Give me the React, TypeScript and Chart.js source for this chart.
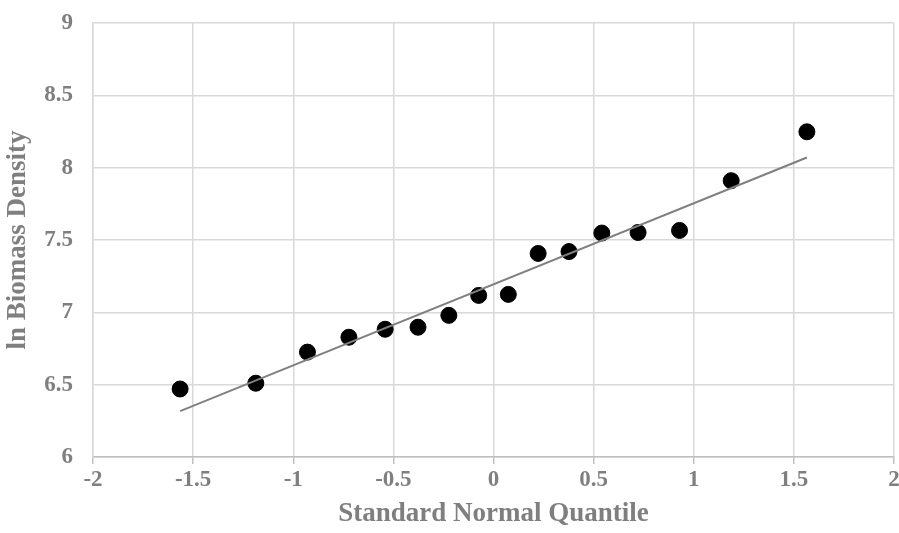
import React, { useEffect, useRef } from "react";
import { Chart, registerables } from "chart.js";

Chart.register(...registerables);

// Standard normal quantiles (x) and ln biomass density (y)
const quantiles = [
  -1.565, -1.187, -0.929, -0.722, -0.541, -0.377, -0.223, -0.074,
  0.074, 0.223, 0.377, 0.541, 0.722, 0.929, 1.187, 1.565,
];
const lnDensity = [
  6.47, 6.51, 6.725, 6.828, 6.883, 6.897, 6.979, 7.117,
  7.124, 7.407, 7.42, 7.548, 7.552, 7.566, 7.91, 8.248,
];
// Trend line end points
const trendX = [-1.565, 1.565];
const trendY = [6.317, 8.07];

const xTicks = [-2, -1.5, -1, -0.5, 0, 0.5, 1, 1.5, 2];
const xTickLabels = ["-2", "-1.5", "-1", "-0.5", "0", "0.5", "1", "1.5", "2"];
const yTicks = [6, 6.5, 7, 7.5, 8, 8.5, 9];
const yTickLabels = ["6", "6.5", "7", "7.5", "8", "8.5", "9"];

const xTitle = "Standard Normal Quantile";
const yTitle = "ln Biomass Density";

const FONT = "'Liberation Serif', 'Times New Roman', serif";
const TEXT = "#7f7f7f";
const GRID = "#d9d9d9";

export default function App() {
  const ref = useRef<HTMLCanvasElement | null>(null);

  useEffect(() => {
    if (!ref.current) return;
    const chart = new Chart(ref.current, {
      type: "scatter",
      data: {
        datasets: [
          {
            type: "line",
            data: trendX.map((x, i) => ({ x, y: trendY[i] })),
            borderColor: "#808080",
            borderWidth: 2,
            pointRadius: 0,
            fill: false,
          } as any,
          {
            data: quantiles.map((x, i) => ({ x, y: lnDensity[i] })),
            backgroundColor: "#000000",
            borderColor: "#000000",
            pointRadius: 8,
            pointHoverRadius: 8,
          },
        ],
      },
      options: {
        animation: false,
        responsive: true,
        maintainAspectRatio: false,
        layout: { autoPadding: false, padding: { top: 23, right: 5, left: 0, bottom: 0 } },
        plugins: { legend: { display: false }, tooltip: { enabled: false } },
        scales: {
          x: {
            type: "linear",
            min: -2,
            max: 2,
            afterBuildTicks: (s: any) => {
              s.ticks = xTicks.map((v) => ({ value: v }));
            },
            afterFit: (s: any) => {
              s.height = 76;
              s.paddingLeft = 0;
              s.paddingRight = 0;
            },
            ticks: {
              callback: (v: any) => xTickLabels[xTicks.indexOf(Number(v))] ?? "",
              color: TEXT,
              font: { family: FONT, size: 23, weight: "bold" },
              padding: 2,
              maxRotation: 0,
              autoSkip: false,
            },
            grid: {
              color: GRID,
              lineWidth: 1.5,
              drawTicks: true,
              tickLength: 7,
              tickColor: "#bfbfbf",
            },
            border: { color: "#bfbfbf", width: 1.5 },
            title: {
              display: true,
              text: xTitle,
              color: TEXT,
              font: { family: FONT, size: 27, weight: "bold" },
              padding: { top: 0, bottom: 3 },
            },
          },
          y: {
            type: "linear",
            min: 6,
            max: 9,
            afterBuildTicks: (s: any) => {
              s.ticks = yTicks.map((v) => ({ value: v }));
            },
            afterFit: (s: any) => {
              s.width = 93;
              s.paddingTop = 0;
              s.paddingBottom = 0;
            },
            ticks: {
              callback: (v: any) => yTickLabels[yTicks.indexOf(Number(v))] ?? "",
              color: TEXT,
              font: { family: FONT, size: 23, weight: "bold" },
              padding: 20,
              autoSkip: false,
            },
            grid: { color: GRID, lineWidth: 1.5, drawTicks: false },
            border: { color: GRID, width: 1.5 },
            title: {
              display: true,
              text: yTitle,
              color: TEXT,
              font: { family: FONT, size: 27, weight: "bold" },
              padding: { top: 2, bottom: 0 },
            },
          },
        },
      },
    });
    return () => chart.destroy();
  }, []);

  return (
    <div style={{ position: "absolute", left: 0, top: 0, width: 899, height: 533, background: "#fff" }}>
      <canvas ref={ref} />
    </div>
  );
}
